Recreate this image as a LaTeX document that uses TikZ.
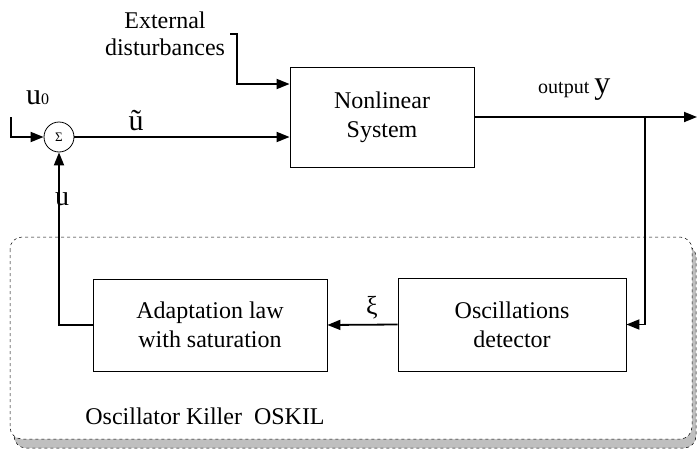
\documentclass[tikz,border=0pt]{standalone}
\usepackage{fontspec}
\setmainfont{Liberation Serif}
\usetikzlibrary{arrows.meta}
\newcommand{\fs}[2]{\fontsize{#1}{#2}\selectfont}
\begin{document}
\begin{tikzpicture}[x=1pt,y=-1pt,
  conn/.style={line width=1.8pt,-{Triangle[length=13pt,width=10pt]}},
  blk/.style={draw,line width=0.8pt,rectangle,align=center,inner sep=0pt,font=\fs{24}{29}},
  lbl/.style={inner sep=0pt,font=\fs{24}{27}}]
\useasboundingbox (0,0) rectangle (697,450);
% OSKIL frame with shadow
\draw[dashed,line width=0.5pt,fill=black!25,rounded corners=12pt] (14,245) rectangle (696,448);
\draw[dashed,line width=0.5pt,fill=white,rounded corners=12pt] (10,237) rectangle (692,439);
\node[lbl,anchor=base] (oskil) at (205,424) {Oscillator Killer\ \ OSKIL};
% blocks
\node[blk,minimum width=184pt,minimum height=100pt] (sys) at (382,117) {Nonlinear\\System};
\node[blk,minimum width=228pt,minimum height=93pt] (det) at (512,324.5) {Oscillations\\detector};
\node[blk,minimum width=234pt,minimum height=92pt] (adp) at (210,325) {Adaptation law\\with saturation};
\node[draw,circle,line width=0.8pt,minimum size=30pt,inner sep=0pt,font=\fs{13}{13}] (sum) at (59,137) {Σ};
% coordinates
\coordinate (in0) at (11,117);
\coordinate (ext) at (230,34);
\coordinate (extc) at (237,84);
\coordinate (outend) at (697,117);
\coordinate (branch) at (645,117);
% connectors
\draw[conn] (in0) |- (sum.west);
\draw[conn] (sum.east) -- (sum.east -| sys.west);
\draw[conn] (ext) -| (extc) -- (extc -| sys.west);
\draw[conn] (sys.east) -- (outend);
\draw[conn] (branch) |- (det.east);
\draw[conn] (det.west) -- (adp.east);
\draw[conn] (adp.west) -| (sum.south);
% labels
\node[lbl,align=center,anchor=base] (extlbl) at (165,55) {External\\disturbances};
\node[inner sep=0pt,anchor=base west] (u0) at (26,104) {\fs{30}{30}u\fs{16}{16}0};
\node[inner sep=0pt,anchor=base] (ut) at (136,130) {\fs{30}{30}ũ};
\node[inner sep=0pt,anchor=base] (ulbl) at (62,205) {\fs{28}{28}u};
\node[inner sep=0pt,anchor=base] (xi) at (372,314) {\fs{26}{26}ξ};
\node[inner sep=0pt,anchor=base west] (outlbl) at (538,93) {\fs{20}{20}output \fs{32}{32}y};
\end{tikzpicture}
\end{document}
